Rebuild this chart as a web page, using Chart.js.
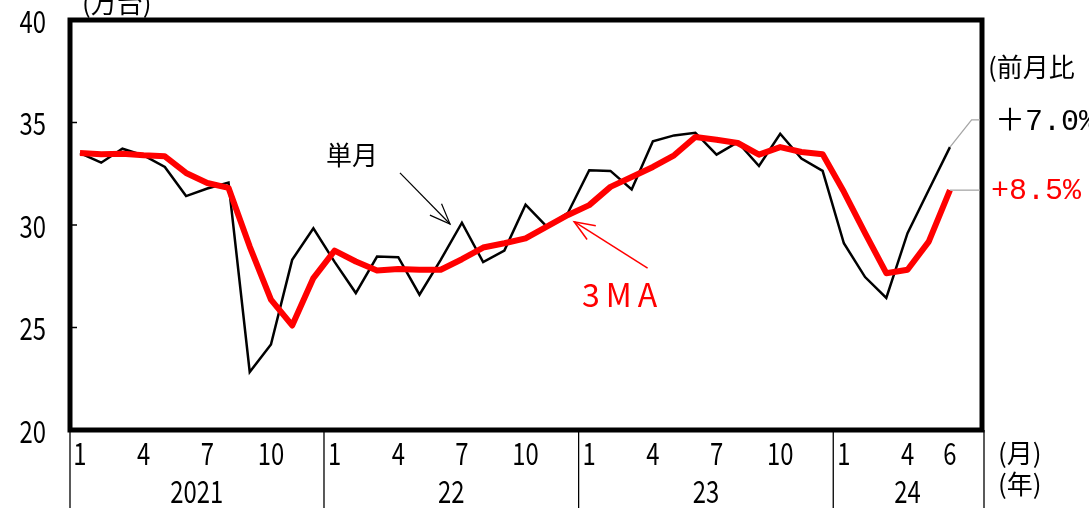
<!DOCTYPE html>
<html><head><meta charset="utf-8">
<script src="https://cdn.jsdelivr.net/npm/chart.js@4.4.1/dist/chart.umd.min.js"></script>
<style>html,body{margin:0;padding:0;background:#fff;}#wrap{width:1089px;height:525px;}</style>
</head><body><div id="wrap"><canvas id="c" width="1089" height="525"></canvas></div>
<script>
// ---- data (Jan 2021 .. Jun 2024) ----
const monthLabels = ['1','2','3','4','5','6','7','8','9','10','11','12'];
const yearNames = ['2021','22','23','24'];
const monthly = [33.51,33.04,33.72,33.40,32.83,31.41,31.78,32.07,22.83,24.17,28.30,29.84,
                 28.20,26.68,28.46,28.43,26.60,28.30,30.11,28.19,28.75,30.99,29.92,30.60,
                 32.67,32.64,31.73,34.08,34.37,34.50,33.43,34.04,32.88,34.45,33.24,32.64,
                 29.11,27.46,26.44,29.60,31.71,33.80];
const ma3 =     [33.51,33.45,33.48,33.40,33.35,32.54,32.05,31.81,28.95,26.36,25.10,27.41,
                 28.75,28.22,27.78,27.85,27.82,27.82,28.33,28.90,29.11,29.35,29.92,30.49,
                 30.97,31.86,32.34,32.83,33.40,34.29,34.16,34.00,33.43,33.80,33.56,33.45,
                 31.62,29.60,27.65,27.82,29.19,31.70];
const monthTickIdx = [0,3,6,9,12,15,18,21,24,27,30,33,36,39,41];
const yearCenters = [5.5,17.5,29.5,39];
const yearBounds = [11.5,23.5,35.5];
const yTicks = [20,25,30,35,40];
const changeLabels = ['＋7.0%','+8.5%'];

const NUMF = '31px "Noto Sans CJK JP",sans-serif';
const JP = '"Noto Sans CJK JP",sans-serif';
const XMIN=-0.47, XMAX=42.51;

function narrow(ctx, text, x, y, align, sx){
  ctx.save();
  ctx.translate(x,y); ctx.scale(sx,1);
  ctx.textAlign=align; ctx.textBaseline='middle';
  ctx.fillText(text,0,0);
  ctx.restore();
}

const decor = {
  id:'decor',
  afterDraw(chart){
    const {ctx, chartArea:a, scales} = chart;
    const xs=scales.x, ys=scales.y;
    const X=v=>xs.getPixelForValue(v), Y=v=>ys.getPixelForValue(v);
    ctx.save();
    // border
    ctx.strokeStyle='#000'; ctx.lineWidth=5;
    ctx.strokeRect(a.left,a.top,a.right-a.left,a.bottom-a.top);
    // inner y ticks
    ctx.lineWidth=1.5;
    yTicks.slice(1,-1).forEach(v=>{ctx.beginPath();ctx.moveTo(a.left,Y(v));ctx.lineTo(a.left+7,Y(v));ctx.stroke();});
    // year separators
    ctx.lineWidth=1.3;
    [a.left, ...yearBounds.map(X), a.right+2].forEach(px=>{
      ctx.beginPath();ctx.moveTo(px,a.bottom);ctx.lineTo(px,508);ctx.stroke();});
    // tick labels (narrow digits), positioned through the scales
    ctx.fillStyle='#000'; ctx.font=NUMF;
    ys.ticks.forEach(t=>narrow(ctx,String(t.value),46,Y(t.value)+1,'right',0.77));
    xs.ticks.forEach(t=>narrow(ctx,monthLabels[t.value%12],X(t.value),453,'center',0.77));
    scales.x2.ticks.forEach((t,i)=>narrow(ctx,yearNames[i],X(t.value),491,'center',0.77));
    // unit texts
    ctx.fillStyle='#000'; ctx.font='26px '+JP; ctx.textBaseline='alphabetic'; ctx.textAlign='left';
    ctx.fillText('(万台)', a.left+12, 13);
    ctx.fillText('(月)', a.right+16, 463);
    ctx.fillText('(年)', a.right+16, 494);
    ctx.fillText('(前月比', a.right+6, 77);
    ctx.fillText('単月', 326, 165);
    // arrows
    const arrow=(x1,y1,x2,y2,col,w)=>{
      const p1=[X(x1),Y(y1)], p2=[X(x2),Y(y2)];
      ctx.strokeStyle=col; ctx.lineWidth=w;
      ctx.beginPath();ctx.moveTo(p1[0],p1[1]);ctx.lineTo(p2[0],p2[1]);ctx.stroke();
      const ang=Math.atan2(p2[1]-p1[1],p2[0]-p1[0]), L=22, s=0.38;
      ctx.beginPath();
      ctx.moveTo(p2[0]-L*Math.cos(ang-s),p2[1]-L*Math.sin(ang-s));
      ctx.lineTo(p2[0],p2[1]);
      ctx.lineTo(p2[0]-L*Math.cos(ang+s),p2[1]-L*Math.sin(ang+s));
      ctx.stroke();
    };
    arrow(15.08,32.54,17.44,30.05,'#000',1.2);
    arrow(26.75,27.9,23.29,30.16,'#ff0000',1.5);
    ctx.fillStyle='#ff0000'; ctx.font='32px '+JP;
    ctx.letterSpacing='6px';
    ctx.fillText('3MA', 582, 307);
    ctx.letterSpacing='0px';
    // leader lines
    ctx.strokeStyle='#a6a6a6'; ctx.lineWidth=1.3;
    ctx.beginPath();ctx.moveTo(X(41),Y(monthly[41]));ctx.lineTo(X(42.02),Y(35.13));ctx.lineTo(a.right-2,Y(35.13));ctx.stroke();
    ctx.beginPath();ctx.moveTo(X(41),Y(ma3[41]));ctx.lineTo(a.right-2,Y(ma3[41]));ctx.stroke();
    ctx.font='30px "Liberation Mono","Noto Sans CJK JP",monospace'; ctx.textBaseline='middle';
    ctx.fillStyle='#000'; ctx.fillText(changeLabels[0], a.right+13, Y(35.13)+2);
    ctx.fillStyle='#ff0000'; ctx.fillText(changeLabels[1], a.right+9, Y(ma3[41])+1);
    ctx.restore();
  }
};

new Chart(document.getElementById('c'),{
  type:'line',
  data:{datasets:[
    {label:'単月',data:monthly.map((v,i)=>({x:i,y:v})),borderColor:'#000',borderWidth:2.5,pointRadius:0,tension:0,order:2},
    {label:'3MA',data:ma3.map((v,i)=>({x:i,y:v})),borderColor:'#ff0000',borderWidth:6,pointRadius:0,tension:0,order:1,borderJoinStyle:'round'}
  ]},
  options:{
    responsive:false,animation:false,
    layout:{padding:{top:20,right:107,left:0,bottom:0}},
    plugins:{legend:{display:false},tooltip:{enabled:false}},
    scales:{
      x:{type:'linear',min:XMIN,max:XMAX,position:'bottom',
        afterBuildTicks:s=>{s.ticks=monthTickIdx.map(v=>({value:v}));},
        afterFit:s=>{s.height=50;},
        grid:{display:false},border:{display:false},ticks:{display:false}},
      x2:{type:'linear',min:XMIN,max:XMAX,position:'bottom',
        afterBuildTicks:s=>{s.ticks=yearCenters.map(v=>({value:v}));},
        afterFit:s=>{s.height=45;},
        grid:{display:false},border:{display:false},ticks:{display:false}},
      y:{min:20,max:40,
        afterBuildTicks:s=>{s.ticks=yTicks.map(v=>({value:v}));},
        afterFit:s=>{s.width=70;},
        grid:{display:false},border:{display:false},ticks:{display:false}}
    }
  },
  plugins:[decor]
});
</script></body></html>
